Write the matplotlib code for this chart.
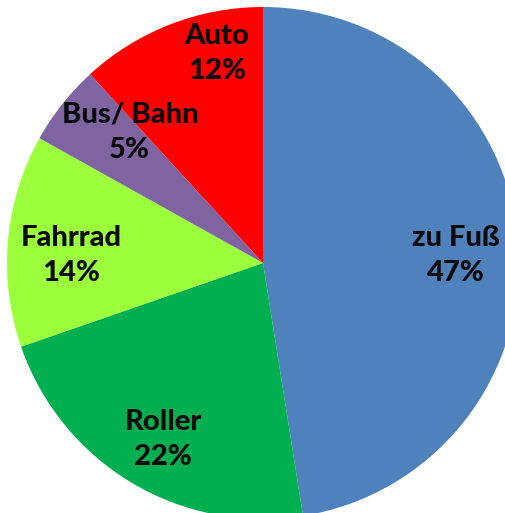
import matplotlib
matplotlib.use("Agg")
import matplotlib.pyplot as plt

# data, clockwise from 12 o'clock (shares measured from the slice angles)
labels = ["zu Fuß", "Roller", "Fahrrad", "Bus/ Bahn", "Auto"]
shares = [47.5, 22.2, 13.4, 5.1, 11.8]
pct_text = ["47%", "22%", "14%", "5%", "12%"]
colors = ["#4F81BD", "#00B050", "#9BFF3B", "#8064A2", "#FF0000"]

# label block centres (in pie radius units, centre = 0,0)
label_pos = [(0.755, 0.03), (-0.39, -0.69), (-0.75, 0.03), (-0.52, 0.51), (-0.18, 0.82)]

fig = plt.figure(figsize=(5.06, 5.13), dpi=100)
ax = fig.add_axes([0, 0, 1, 1])

wedges, _ = ax.pie(shares, colors=colors, startangle=90, counterclock=False,
                   radius=1.0, wedgeprops=dict(linewidth=0))

for name, pct, (x, y) in zip(labels, pct_text, label_pos):
    ax.text(x, y, "{}\n{}".format(name, pct), ha="center", va="center",
            fontsize=21, fontweight="black", family="Lato", color="#0a0a0a",
            linespacing=1.43)

# pie centre sits at pixel (263, 263), radius 256 px; chart is cropped right/bottom
ax.set_aspect("auto")
ax.set_xlim(-263 / 256, (506 - 263) / 256)
ax.set_ylim(-(513 - 263) / 256, 263 / 256)
ax.axis("off")

fig.savefig("out.png", dpi=100, facecolor="white")
